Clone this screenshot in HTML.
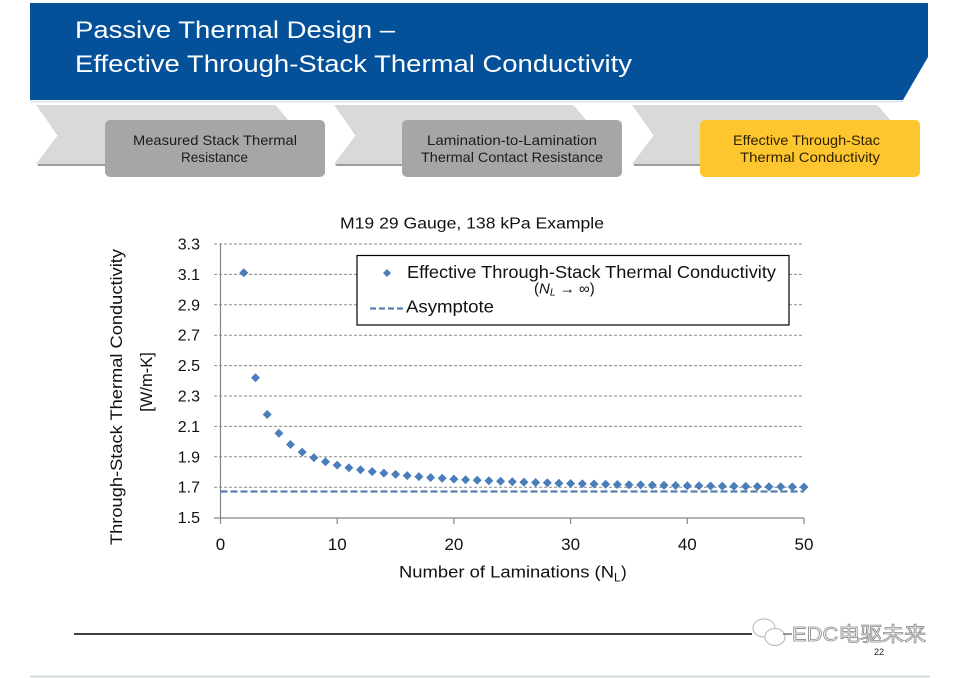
<!DOCTYPE html>
<html>
<head>
<meta charset="utf-8">
<style>
html,body{margin:0;padding:0;background:#fff;}
svg{display:block;}
text{font-family:"Liberation Sans","Noto Sans CJK SC",sans-serif;}
</style>
</head>
<body>
<svg width="959" height="678" viewBox="0 0 959 678" xmlns="http://www.w3.org/2000/svg">
<rect x="0" y="0" width="959" height="678" fill="#ffffff"/>

<!-- Header -->
<polygon points="30,3 928,3 928,57 903,100 30,100" fill="#04519a"/>
<line x1="30" y1="101.5" x2="903" y2="101.5" stroke="#d6e2ef" stroke-width="1.5"/>
<text x="75" y="38" font-size="24" fill="#ffffff" textLength="320" lengthAdjust="spacingAndGlyphs">Passive Thermal Design –</text>
<text x="75" y="72" font-size="24" fill="#ffffff" textLength="557" lengthAdjust="spacingAndGlyphs">Effective Through-Stack Thermal Conductivity</text>

<!-- Chevrons -->
<g>
  <polygon points="37,106 276,106 302,137 276,166 37,166 59,137" fill="#9c9c9c"/>
  <polygon points="36,105 275,105 300,135 275,164 36,164 58,135" fill="#d9d9d9"/>
  <polygon points="335,106 574,106 600,137 574,166 335,166 357,137" fill="#9c9c9c"/>
  <polygon points="334,105 573,105 598,135 573,164 334,164 356,135" fill="#d9d9d9"/>
  <polygon points="633,106 878,106 904,137 878,166 633,166 655,137" fill="#9c9c9c"/>
  <polygon points="632,105 877,105 902,135 877,164 632,164 654,135" fill="#d9d9d9"/>
</g>
<rect x="105" y="120" width="220" height="57" rx="5" fill="#a6a6a6"/>
<rect x="402" y="120" width="220" height="57" rx="5" fill="#a6a6a6"/>
<rect x="700" y="120" width="220" height="57" rx="5" fill="#fec62e"/>
<g font-size="14" fill="#1c1c1c" text-anchor="start">
  <text x="133" y="145" textLength="164" lengthAdjust="spacingAndGlyphs">Measured Stack Thermal</text>
  <text x="181" y="162" textLength="67" lengthAdjust="spacingAndGlyphs">Resistance</text>
  <text x="427" y="145" textLength="170" lengthAdjust="spacingAndGlyphs">Lamination-to-Lamination</text>
  <text x="421" y="162" textLength="182" lengthAdjust="spacingAndGlyphs">Thermal Contact Resistance</text>
  <text x="733" y="145" textLength="147" lengthAdjust="spacingAndGlyphs" fill="#2e2200">Effective Through-Stac</text>
  <text x="740" y="162" textLength="140" lengthAdjust="spacingAndGlyphs" fill="#2e2200">Thermal Conductivity</text>
</g>

<!-- Chart title -->
<text x="340" y="228.5" font-size="16" fill="#111" textLength="264" lengthAdjust="spacingAndGlyphs">M19 29 Gauge, 138 kPa Example</text>

<!-- Gridlines -->
<g stroke="#8a8a8a" stroke-width="1" stroke-dasharray="3,2">
  <line x1="214" y1="244" x2="804" y2="244"/>
  <line x1="214" y1="274.4" x2="804" y2="274.4"/>
  <line x1="214" y1="304.8" x2="804" y2="304.8"/>
  <line x1="214" y1="335.2" x2="804" y2="335.2"/>
  <line x1="214" y1="365.6" x2="804" y2="365.6"/>
  <line x1="214" y1="396" x2="804" y2="396"/>
  <line x1="214" y1="426.4" x2="804" y2="426.4"/>
  <line x1="214" y1="456.8" x2="804" y2="456.8"/>
  <line x1="214" y1="487.2" x2="804" y2="487.2"/>
</g>
<!-- Axes -->
<g stroke="#868686" stroke-width="1.2">
  <line x1="220.5" y1="244" x2="220.5" y2="518"/>
  <line x1="214" y1="518" x2="804" y2="518"/>
  <line x1="220.5" y1="518" x2="220.5" y2="524"/>
  <line x1="337.2" y1="518" x2="337.2" y2="524"/>
  <line x1="453.9" y1="518" x2="453.9" y2="524"/>
  <line x1="570.6" y1="518" x2="570.6" y2="524"/>
  <line x1="687.3" y1="518" x2="687.3" y2="524"/>
  <line x1="804" y1="518" x2="804" y2="524"/>
</g>

<!-- Y tick labels -->
<g font-size="16" fill="#111" text-anchor="end">
  <text x="200" y="249.5">3.3</text>
  <text x="200" y="279.9">3.1</text>
  <text x="200" y="310.3">2.9</text>
  <text x="200" y="340.7">2.7</text>
  <text x="200" y="371.1">2.5</text>
  <text x="200" y="401.5">2.3</text>
  <text x="200" y="431.9">2.1</text>
  <text x="200" y="462.3">1.9</text>
  <text x="200" y="492.7">1.7</text>
  <text x="200" y="523.1">1.5</text>
</g>
<!-- X tick labels -->
<g font-size="17" fill="#111" text-anchor="middle">
  <text x="220.5" y="550">0</text>
  <text x="337.2" y="550">10</text>
  <text x="453.9" y="550">20</text>
  <text x="570.6" y="550">30</text>
  <text x="687.3" y="550">40</text>
  <text x="804" y="550">50</text>
</g>
<!-- X axis title -->
<text x="399" y="577.5" font-size="17" fill="#111" textLength="215" lengthAdjust="spacingAndGlyphs">Number of Laminations (N</text>
<text x="614" y="581.5" font-size="12" fill="#111">L</text>
<text x="621" y="577.5" font-size="17" fill="#111">)</text>

<!-- Y axis title -->
<text transform="translate(122,397) rotate(-90)" text-anchor="middle" font-size="16.5" fill="#111" textLength="296" lengthAdjust="spacingAndGlyphs">Through-Stack Thermal Conductivity</text>
<text transform="translate(152,382) rotate(-90)" text-anchor="middle" font-size="16.5" fill="#111">[W/m-K]</text>

<!-- Asymptote -->
<line x1="220.5" y1="491.5" x2="804" y2="491.5" stroke="#5a80b2" stroke-width="2.2" stroke-dasharray="7,3"/>

<!-- Data markers -->
<path fill="#4a7ebb" d="
M243.8,268.3l4.5,4.5l-4.5,4.5l-4.5,-4.5z
M255.5,373.2l4.5,4.5l-4.5,4.5l-4.5,-4.5z
M267.2,410l4.5,4.5l-4.5,4.5l-4.5,-4.5z
M278.9,428.7l4.5,4.5l-4.5,4.5l-4.5,-4.5z
M290.5,440l4.5,4.5l-4.5,4.5l-4.5,-4.5z
M302.2,447.6l4.5,4.5l-4.5,4.5l-4.5,-4.5z
M313.9,453.1l4.5,4.5l-4.5,4.5l-4.5,-4.5z
M325.5,457.2l4.5,4.5l-4.5,4.5l-4.5,-4.5z
M337.2,460.6l4.5,4.5l-4.5,4.5l-4.5,-4.5z
M348.9,463.2l4.5,4.5l-4.5,4.5l-4.5,-4.5z
M360.5,465.3l4.5,4.5l-4.5,4.5l-4.5,-4.5z
M372.2,467.1l4.5,4.5l-4.5,4.5l-4.5,-4.5z
M383.9,468.6l4.5,4.5l-4.5,4.5l-4.5,-4.5z
M395.6,469.9l4.5,4.5l-4.5,4.5l-4.5,-4.5z
M407.2,471.1l4.5,4.5l-4.5,4.5l-4.5,-4.5z
M418.9,472.1l4.5,4.5l-4.5,4.5l-4.5,-4.5z
M430.6,473l4.5,4.5l-4.5,4.5l-4.5,-4.5z
M442.2,473.8l4.5,4.5l-4.5,4.5l-4.5,-4.5z
M453.9,474.6l4.5,4.5l-4.5,4.5l-4.5,-4.5z
M465.6,475.2l4.5,4.5l-4.5,4.5l-4.5,-4.5z
M477.2,475.8l4.5,4.5l-4.5,4.5l-4.5,-4.5z
M488.9,476.3l4.5,4.5l-4.5,4.5l-4.5,-4.5z
M500.6,476.8l4.5,4.5l-4.5,4.5l-4.5,-4.5z
M512.3,477.2l4.5,4.5l-4.5,4.5l-4.5,-4.5z
M523.9,477.6l4.5,4.5l-4.5,4.5l-4.5,-4.5z
M535.6,478l4.5,4.5l-4.5,4.5l-4.5,-4.5z
M547.3,478.3l4.5,4.5l-4.5,4.5l-4.5,-4.5z
M558.9,478.7l4.5,4.5l-4.5,4.5l-4.5,-4.5z
M570.6,479l4.5,4.5l-4.5,4.5l-4.5,-4.5z
M582.3,479.3l4.5,4.5l-4.5,4.5l-4.5,-4.5z
M594,479.5l4.5,4.5l-4.5,4.5l-4.5,-4.5z
M605.6,479.8l4.5,4.5l-4.5,4.5l-4.5,-4.5z
M617.3,480l4.5,4.5l-4.5,4.5l-4.5,-4.5z
M629,480.2l4.5,4.5l-4.5,4.5l-4.5,-4.5z
M640.6,480.4l4.5,4.5l-4.5,4.5l-4.5,-4.5z
M652.3,480.6l4.5,4.5l-4.5,4.5l-4.5,-4.5z
M664,480.8l4.5,4.5l-4.5,4.5l-4.5,-4.5z
M675.6,481l4.5,4.5l-4.5,4.5l-4.5,-4.5z
M687.3,481.2l4.5,4.5l-4.5,4.5l-4.5,-4.5z
M699,481.3l4.5,4.5l-4.5,4.5l-4.5,-4.5z
M710.6,481.5l4.5,4.5l-4.5,4.5l-4.5,-4.5z
M722.3,481.6l4.5,4.5l-4.5,4.5l-4.5,-4.5z
M734,481.8l4.5,4.5l-4.5,4.5l-4.5,-4.5z
M745.7,481.9l4.5,4.5l-4.5,4.5l-4.5,-4.5z
M757.3,482l4.5,4.5l-4.5,4.5l-4.5,-4.5z
M769,482.2l4.5,4.5l-4.5,4.5l-4.5,-4.5z
M780.7,482.3l4.5,4.5l-4.5,4.5l-4.5,-4.5z
M792.3,482.4l4.5,4.5l-4.5,4.5l-4.5,-4.5z
M804,482.5l4.5,4.5l-4.5,4.5l-4.5,-4.5z
"/>

<!-- Legend -->
<rect x="357" y="255.5" width="432" height="69.5" fill="#ffffff" stroke="#000" stroke-width="1.2"/>
<path fill="#4a7ebb" d="M387,269l4,4l-4,4l-4,-4z"/>
<text x="407" y="278" font-size="17.5" fill="#111" textLength="369" lengthAdjust="spacingAndGlyphs">Effective Through-Stack Thermal Conductivity</text>
<text x="534" y="293.5" font-family="Liberation Serif, serif" font-size="15" fill="#111">(<tspan font-style="italic">N</tspan><tspan font-style="italic" font-size="10.5" dy="2">L</tspan><tspan dy="-2"> → ∞)</tspan></text>
<line x1="370" y1="308.5" x2="403" y2="308.5" stroke="#5a80b2" stroke-width="2.2" stroke-dasharray="6,3"/>
<text x="406" y="312.5" font-size="17.5" fill="#111" textLength="88" lengthAdjust="spacingAndGlyphs">Asymptote</text>

<!-- Footer -->
<line x1="74" y1="634" x2="752" y2="634" stroke="#000" stroke-width="1.6"/>
<g fill="#ffffff" stroke="#b5b5b5" stroke-width="1">
  <ellipse cx="764" cy="628" rx="11" ry="9"/>
  <ellipse cx="775" cy="637" rx="10" ry="8.5"/>
</g>
<line x1="783" y1="634" x2="792" y2="634" stroke="#555" stroke-width="1.2"/>
<text x="792" y="641" font-size="20" fill="#ffffff" stroke="#8a8a8a" stroke-width="0.8" textLength="134" lengthAdjust="spacingAndGlyphs" font-family="Liberation Sans, Noto Sans CJK SC, sans-serif">EDC电驱未来</text>
<text x="874" y="655" font-size="9" fill="#222">22</text>
<line x1="30" y1="676.5" x2="930" y2="676.5" stroke="#c9d6d6" stroke-width="1.5"/>
</svg>
</body>
</html>
